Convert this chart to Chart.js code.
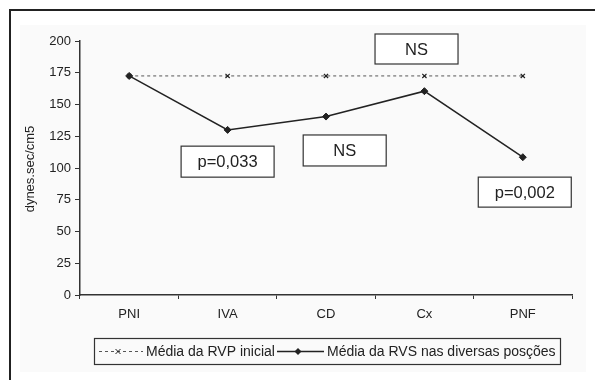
<!DOCTYPE html>
<html>
<head>
<meta charset="utf-8">
<script src="https://cdn.jsdelivr.net/npm/chart.js@4"></script>
<style>
  html, body { margin: 0; padding: 0; background: #fff; }
  canvas { display: block; }
</style>
</head>
<body>
<canvas id="chart" width="595" height="380"></canvas>
<script>
// data
const categories = ['PNI', 'IVA', 'CD', 'Cx', 'PNF'];
const rvpInicial = [172.5, 172.5, 172.5, 172.5, 172.5];
const rvsPosicoes = [172.5, 130, 140.5, 160.5, 108.5];
const yTicks = [0, 25, 50, 75, 100, 125, 150, 175, 200];
const seriesNames = ['Média da RVP inicial', 'Média da RVS nas diversas posções'];

// text boxes placed in data units (category index, value)
const notes = [
  { text: 'NS', x: 2.92, y: 193.7, w: 83, h: 30 },
  { text: 'p=0,033', x: 1.0, y: 105, w: 93, h: 31 },
  { text: 'NS', x: 2.19, y: 113.8, w: 83, h: 31 },
  { text: 'p=0,002', x: 4.02, y: 81, w: 93, h: 30 }
];

const FONT = '"Liberation Sans", Arial, sans-serif';
const INK = '#222';

function diamond(ctx, x, y, r) {
  ctx.beginPath();
  ctx.moveTo(x, y - r);
  ctx.lineTo(x + r, y);
  ctx.lineTo(x, y + r);
  ctx.lineTo(x - r, y);
  ctx.closePath();
  ctx.fill();
}

function cross(ctx, x, y, r) {
  ctx.beginPath();
  ctx.moveTo(x - r, y - r); ctx.lineTo(x + r, y + r);
  ctx.moveTo(x + r, y - r); ctx.lineTo(x - r, y + r);
  ctx.stroke();
}

const decorPlugin = {
  id: 'decor',
  beforeDraw(chart) {
    const ctx = chart.ctx;
    ctx.save();
    ctx.fillStyle = '#fff';
    ctx.fillRect(0, 0, chart.width, chart.height);
    ctx.fillStyle = '#fafafa';
    ctx.fillRect(20, 25, 566, 347);
    // outer frame (cut off at right and bottom)
    ctx.strokeStyle = INK;
    ctx.lineWidth = 2;
    ctx.strokeRect(10, 10, 700, 500);
    ctx.restore();
  },
  afterDraw(chart) {
    const ctx = chart.ctx;
    const xs = chart.scales.x, ys = chart.scales.y;
    ctx.save();

    // y axis title
    ctx.translate(30, 169);
    ctx.rotate(-Math.PI / 2);
    ctx.fillStyle = INK;
    ctx.font = '13px ' + FONT;
    ctx.textAlign = 'center';
    ctx.textBaseline = 'middle';
    ctx.fillText('dynes.sec/cm5', 0, 0);
    ctx.setTransform(1, 0, 0, 1, 0, 0);

    // annotation boxes
    ctx.font = '16.5px ' + FONT;
    notes.forEach(n => {
      const cx = xs.getPixelForValue(n.x);
      const cy = ys.getPixelForValue(n.y);
      ctx.fillStyle = '#fff';
      ctx.fillRect(cx - n.w / 2, cy - n.h / 2, n.w, n.h);
      ctx.strokeStyle = '#333';
      ctx.lineWidth = 1.2;
      ctx.strokeRect(cx - n.w / 2, cy - n.h / 2, n.w, n.h);
      ctx.fillStyle = INK;
      ctx.fillText(n.text, cx, cy + 1);
    });

    // legend
    ctx.strokeStyle = '#333';
    ctx.lineWidth = 1.2;
    ctx.strokeRect(94.5, 338.5, 466, 26);
    const ly = 351.5;
    ctx.strokeStyle = '#555';
    ctx.lineWidth = 1;
    ctx.setLineDash([3, 3]);
    ctx.beginPath(); ctx.moveTo(99, ly); ctx.lineTo(143, ly); ctx.stroke();
    ctx.setLineDash([]);
    ctx.strokeStyle = INK;
    cross(ctx, 118, ly, 2.5);
    ctx.fillStyle = INK;
    ctx.font = '14px ' + FONT;
    ctx.textAlign = 'left';
    ctx.fillText(seriesNames[0], 146, ly + 1);
    ctx.lineWidth = 1.5;
    ctx.beginPath(); ctx.moveTo(277, ly); ctx.lineTo(324, ly); ctx.stroke();
    diamond(ctx, 298, ly, 3.5);
    ctx.fillText(seriesNames[1], 327, ly + 1);

    ctx.restore();
  }
};

new Chart(document.getElementById('chart'), {
  type: 'line',
  data: {
    labels: categories,
    datasets: [
      {
        label: seriesNames[0],
        data: rvpInicial,
        borderColor: '#555',
        borderWidth: 1,
        borderDash: [3, 3],
        pointStyle: 'crossRot',
        pointRadius: 3,
        pointBorderColor: INK,
        pointBorderWidth: 1.2,
        tension: 0,
        order: 2
      },
      {
        label: seriesNames[1],
        data: rvsPosicoes,
        borderColor: INK,
        borderWidth: 1.5,
        pointStyle: 'rectRot',
        pointRadius: 3.5,
        pointBackgroundColor: INK,
        pointBorderColor: INK,
        pointBorderWidth: 1,
        tension: 0,
        order: 1
      }
    ]
  },
  options: {
    responsive: false,
    animation: false,
    layout: { padding: { left: 0, top: 41, right: 23, bottom: 0 } },
    plugins: {
      legend: { display: false },
      tooltip: { enabled: false }
    },
    scales: {
      x: {
        offset: true,
        grid: { offset: true, drawOnChartArea: false, drawTicks: true, tickLength: 4, color: '#333' },
        border: { display: true, color: '#333', width: 1.5 },
        ticks: { color: INK, font: { family: FONT, size: 13 }, padding: 8 },
        afterFit: s => { s.height = 85; }
      },
      y: {
        min: 0,
        max: 200,
        afterBuildTicks: s => { s.ticks = yTicks.map(v => ({ value: v })); },
        grid: { drawOnChartArea: false, drawTicks: true, tickLength: 5, color: '#333' },
        border: { display: true, color: '#333', width: 1.5 },
        ticks: { color: INK, font: { family: FONT, size: 13 }, padding: 4 },
        afterFit: s => { s.width = 80; }
      }
    }
  },
  plugins: [decorPlugin]
});
</script>
</body>
</html>
